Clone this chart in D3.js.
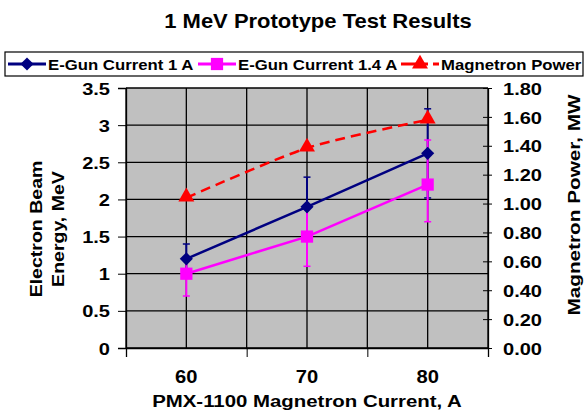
<!DOCTYPE html>
<html>
<head>
<meta charset="utf-8">
<script src="https://cdn.jsdelivr.net/npm/d3@7"></script>
<style>
  body { margin: 0; background: #fff; }
  svg text { font-family: "Liberation Sans", Arial, sans-serif; fill: #000; font-weight: bold; }
</style>
</head>
<body>
<script>
// magnetron current (A)
var currents = [60, 70, 80];
var xTickLabels = [60, 70, 80];
var xGrid = [55, 60, 65, 70, 75, 80, 85];
var xAxisTicks = [55, 65, 75, 85];

// electron beam energy, MeV, with error bar ends
var gun1 = [1.2, 1.9, 2.62];
var gun1Hi = [1.4, 2.3, 3.22];
var gun1Lo = [1.0, 1.5, 2.02];
var gun14 = [1.0, 1.5, 2.2];
var gun14Hi = [1.2, 1.9, 2.8];
var gun14Lo = [0.7, 1.1, 1.7];

// magnetron power, MW
var power = [1.04, 1.385, 1.58];

var leftTicks = [0, 0.5, 1, 1.5, 2, 2.5, 3, 3.5];
var rightTicks = [0, 0.2, 0.4, 0.6, 0.8, 1.0, 1.2, 1.4, 1.6, 1.8];

var W = 586, H = 417;
var m = {left: 126, right: 488, top: 88, bottom: 348};

var svg = d3.select("body").append("svg")
  .attr("width", W).attr("height", H);

var x = d3.scaleLinear().domain([55, 85]).range([m.left, m.right]);
var y = d3.scaleLinear().domain([0, 3.5]).range([m.bottom, m.top]);
var y2 = d3.scaleLinear().domain([0, 1.8]).range([m.bottom, m.top]);

// the source uses a wide face, so stretch text along its direction
function stretch(sel, sx) {
  sel.each(function() {
    var t = d3.select(this);
    var tx = +t.attr("x") || 0, ty = +t.attr("y") || 0;
    t.attr("x", 0).attr("y", 0)
      .attr("transform", "translate(" + tx + "," + ty + ") scale(" + sx + ",1)");
  });
}
function label(px, py, rot, size, sx, str) {
  return svg.append("g")
    .attr("transform", "translate(" + px + "," + py + ") rotate(" + rot + ") scale(" + sx + ",1)")
    .append("text")
    .attr("text-anchor", "middle").attr("font-size", size)
    .text(str);
}

// title
label(318, 28, 0, 20, 1.1, "1 MeV Prototype Test Results");

// plot background
svg.append("rect")
  .attr("x", m.left).attr("y", m.top)
  .attr("width", m.right - m.left).attr("height", m.bottom - m.top)
  .attr("fill", "#c0c0c0");

// grid
svg.append("g").selectAll("line").data(leftTicks).enter().append("line")
  .attr("x1", m.left).attr("x2", m.right)
  .attr("y1", function(d) { return y(d); }).attr("y2", function(d) { return y(d); })
  .attr("stroke", "#000").attr("stroke-width", 1.3);
svg.append("g").selectAll("line").data(xGrid).enter().append("line")
  .attr("x1", function(d) { return x(d); }).attr("x2", function(d) { return x(d); })
  .attr("y1", m.top).attr("y2", m.bottom)
  .attr("stroke", "#000").attr("stroke-width", 1.3);

// axes
var leftAxis = svg.append("g")
  .attr("transform", "translate(" + m.left + ",0)")
  .call(d3.axisLeft(y).tickValues(leftTicks).tickSize(8).tickPadding(8)
    .tickFormat(function(d) { return d3.format("")(d); }));
leftAxis.select(".domain").attr("stroke", "#000").attr("stroke-width", 1.3);
leftAxis.selectAll("text").attr("font-size", 17).attr("dy", "0.36em").call(stretch, 1.18);

var rightAxis = svg.append("g")
  .attr("transform", "translate(" + m.right + ",0)")
  .call(d3.axisRight(y2).tickValues(rightTicks).tickSizeInner(4).tickSizeOuter(0).tickPadding(11)
    .tickFormat(d3.format(".2f")));
rightAxis.selectAll(".tick line").attr("x1", -5);
rightAxis.select(".domain").attr("stroke", "#000").attr("stroke-width", 1.3);
rightAxis.selectAll("text").attr("font-size", 17).attr("dy", "0.36em").call(stretch, 1.18);

var bottomAxis = svg.append("g")
  .attr("transform", "translate(0," + m.bottom + ")")
  .call(d3.axisBottom(x).tickValues(xAxisTicks).tickSize(9).tickFormat(""));
bottomAxis.select(".domain").attr("stroke", "#000").attr("stroke-width", 1.3);

xTickLabels.forEach(function(d) {
  label(x(d), 383, 0, 18, 1.12, d);
});

// axis titles
label(307, 407, 0, 17, 1.2, "PMX-1100 Magnetron Current, A");
label(42, 229, -90, 17, 1.15, "Electron Beam");
label(64, 229, -90, 17, 1.15, "Energy, MeV");
label(580, 205, -90, 17, 1.22, "Magnetron Power, MW");

// error bars
function errorBars(vals, hi, lo, color) {
  var g = svg.append("g");
  currents.forEach(function(c, i) {
    g.append("line")
      .attr("x1", x(c)).attr("x2", x(c))
      .attr("y1", y(hi[i])).attr("y2", y(lo[i]))
      .attr("stroke", color).attr("stroke-width", 2);
    [hi[i], lo[i]].forEach(function(v) {
      g.append("line")
        .attr("x1", x(c) - 3.5).attr("x2", x(c) + 3.5)
        .attr("y1", y(v)).attr("y2", y(v))
        .attr("stroke", color).attr("stroke-width", 1.5);
    });
  });
}
errorBars(gun1, gun1Hi, gun1Lo, "#000080");
errorBars(gun14, gun14Hi, gun14Lo, "#ff00ff");

var line = d3.line()
  .x(function(d, i) { return x(currents[i]); })
  .y(function(d) { return y(d); });

svg.append("path").datum(gun1)
  .attr("d", line).attr("fill", "none")
  .attr("stroke", "#000080").attr("stroke-width", 2.5);
svg.append("path").datum(gun14)
  .attr("d", line).attr("fill", "none")
  .attr("stroke", "#ff00ff").attr("stroke-width", 2.5);

var powerLine = d3.line()
  .x(function(d, i) { return x(currents[i]); })
  .y(function(d) { return y2(d); })
  .curve(d3.curveCardinal.tension(0.3));
svg.append("path").datum(power)
  .attr("d", powerLine).attr("fill", "none")
  .attr("stroke", "#ff0000").attr("stroke-width", 2.5)
  .attr("stroke-dasharray", "10,6");

// markers
var diamond = d3.symbol().type(d3.symbolDiamond2).size(110);
var square = d3.symbol().type(d3.symbolSquare).size(150);
var triangle = d3.symbol().type(d3.symbolTriangle).size(110);

svg.append("g").selectAll("path").data(gun1).enter().append("path")
  .attr("d", diamond)
  .attr("transform", function(d, i) { return "translate(" + x(currents[i]) + "," + y(d) + ")"; })
  .attr("fill", "#000080");
svg.append("g").selectAll("path").data(gun14).enter().append("path")
  .attr("d", square)
  .attr("transform", function(d, i) { return "translate(" + x(currents[i]) + "," + y(d) + ")"; })
  .attr("fill", "#ff00ff");
svg.append("g").selectAll("path").data(power).enter().append("path")
  .attr("d", triangle)
  .attr("transform", function(d, i) { return "translate(" + x(currents[i]) + "," + (y2(d) - 1) + ")"; })
  .attr("fill", "#ff0000");

// legend
var legend = svg.append("g");
legend.append("rect")
  .attr("x", 5).attr("y", 52).attr("width", 578).attr("height", 24)
  .attr("fill", "#fff").attr("stroke", "#000").attr("stroke-width", 1.2);

var legendItems = [
  {name: "E-Gun Current 1 A", color: "#000080", sym: diamond, x0: 8, dash: null},
  {name: "E-Gun Current 1.4 A", color: "#ff00ff", sym: square, x0: 198, dash: null},
  {name: "Magnetron Power", color: "#ff0000", sym: triangle, x0: 401, dash: "27,5"}
];
legendItems.forEach(function(it) {
  legend.append("line")
    .attr("x1", it.x0).attr("x2", it.x0 + 38)
    .attr("y1", 64).attr("y2", 64)
    .attr("stroke", it.color).attr("stroke-width", 3)
    .attr("stroke-dasharray", it.dash);
  legend.append("path")
    .attr("d", it.sym)
    .attr("transform", "translate(" + (it.x0 + 19) + ",64)")
    .attr("fill", it.color);
  legend.append("g")
    .attr("transform", "translate(" + (it.x0 + 40) + ",70) scale(1.08,1)")
    .append("text")
    .attr("font-size", 15.5)
    .text(it.name);
});
</script>
</body>
</html>
